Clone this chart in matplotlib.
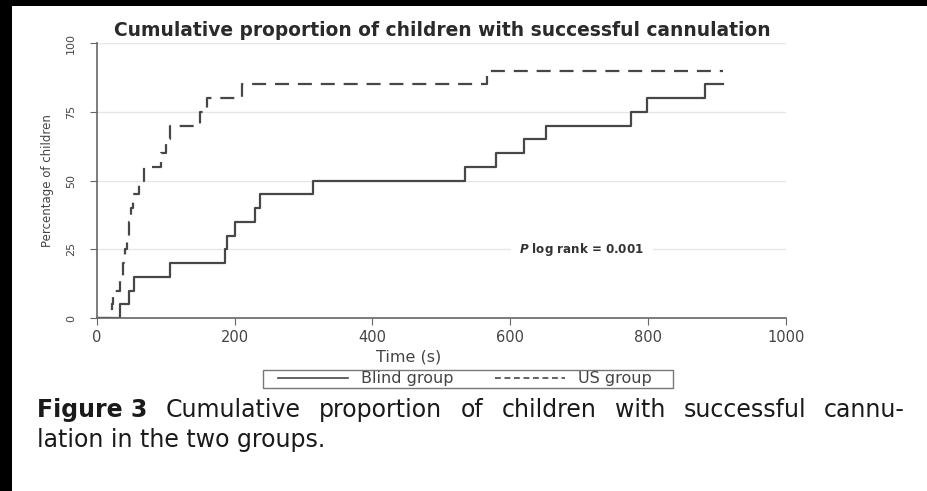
import matplotlib
matplotlib.use("Agg")
import matplotlib.pyplot as plt
from matplotlib.lines import Line2D
from matplotlib.patches import Rectangle

# Datos (tiempo en s, porcentaje acumulado)
blind_times = [0, 34.5, 47, 54.5, 106.5, 186, 189, 201, 230, 237, 314, 535, 580, 620, 652, 775, 799, 883, 909]
blind_pct = [0, 5, 10, 15, 20, 25, 30, 35, 40, 45, 50, 55, 60, 65, 70, 75, 80, 85, 85]

us_times = [0, 22, 24, 34.5, 37.5, 41, 44, 47, 50, 53, 62, 69, 94, 100, 106.5, 150, 160, 211, 566, 909]
us_pct = [0, 5, 10, 15, 20, 25, 30, 35, 40, 45, 50, 55, 60, 65, 70, 75, 80, 85, 90, 90]

x_ticks = [0, 200, 400, 600, 800, 1000]
y_ticks = [0, 25, 50, 75, 100]
labels = ["Blind group", "US group"]

title = "Cumulative proportion of children with successful cannulation"
caption_bold = "Figure 3"
caption_1 = "Cumulative proportion of children with successful cannu-"
caption_2 = "lation in the two groups."

plt.rcParams["font.family"] = ["DejaVu Sans"]
plt.rcParams["mathtext.fontset"] = "custom"
plt.rcParams["mathtext.it"] = "DejaVu Sans:italic:bold"

W, H = 928, 491
fig = plt.figure(figsize=(W / 100, H / 100), dpi=100, facecolor="black")
# zona blanca (marco negro arriba e izquierda)
fig.add_artist(Rectangle((12 / W, 0), 1 - 12 / W, 1 - 6 / H, transform=fig.transFigure,
                         facecolor="white", edgecolor="none", zorder=-10))

ax = fig.add_axes([96.7 / W, 1 - 318 / H, 689 / W, 275 / H])
ax.set_facecolor("white")

line_col = "#474747"
ax.step(blind_times, blind_pct, where="post", color=line_col, lw=1.6)
ax.step(us_times, us_pct, where="post", color=line_col, lw=1.6, ls="--", dashes=(6.3, 4))

ax.set_xlim(0, 1000)
ax.set_ylim(0, 100)
ax.set_xticks(x_ticks)
ax.set_yticks(y_ticks)
ax.yaxis.grid(True, color="#e6e6e6", lw=1)
ax.set_axisbelow(True)

for s in ["top", "right"]:
    ax.spines[s].set_visible(False)
for s in ["left", "bottom"]:
    ax.spines[s].set_color("#666666")
    ax.spines[s].set_linewidth(1.2)

ax.tick_params(axis="x", direction="out", length=5, color="#666666", labelcolor="#444444",
               labelsize=10.5, pad=4)
ax.tick_params(axis="y", direction="out", length=5, color="#666666", labelcolor="#444444",
               labelsize=8, pad=10)
for lbl in ax.get_yticklabels():
    lbl.set_rotation(90)
    lbl.set_va("center")

ax.set_xlabel("Time (s)", fontsize=11.5, color="#444444")
ax.xaxis.set_label_coords(0.453, -0.115)
ax.set_ylabel("Percentage of children", fontsize=8.5, color="#444444")
ax.yaxis.set_label_coords(-0.062, 0.5)

ax.text(704, 25, r"$P$ log rank = 0.001", ha="center", va="center", fontsize=8.6,
        fontweight="bold", color="#333333",
        bbox=dict(facecolor="white", edgecolor="none", pad=6))

fig.text(442 / W, 1 - 31 / H, title, ha="center", va="center", fontsize=13.4,
         fontweight="bold", color="#2a2a2a")

# leyenda con marco dibujado aparte
handles = [Line2D([], [], color=line_col, lw=1.2),
           Line2D([], [], color=line_col, lw=1.2, ls="--", dashes=(3.5, 2.2))]
fig.legend(handles, labels, ncol=2, loc="center", bbox_to_anchor=(465 / W, 1 - 379 / H),
           frameon=False, fontsize=11.5, handlelength=4.4, handletextpad=0.8,
           columnspacing=2.6, borderpad=0, labelcolor="#444444")
fig.add_artist(Rectangle((263 / W, 1 - 388 / H), 410 / W, 18 / H, transform=fig.transFigure,
                         facecolor="none", edgecolor="#777777", lw=1))

# pie de figura, primera linea justificada
cap_size = 17
cap_col = "#1a1a1a"
x0, x1 = 37, 905
y1 = 1 - 410 / H
tb = fig.text(x0 / W, y1, caption_bold, fontsize=cap_size, fontweight="bold",
              va="center", color=cap_col)
words = [fig.text(0, y1, w, fontsize=cap_size, va="center", color=cap_col)
         for w in caption_1.split()]
r = fig.canvas.get_renderer()
widths = [t.get_window_extent(r).width for t in [tb] + words]
gap = (x1 - x0 - sum(widths)) / len(words)
x = x0 + widths[0] + gap
for t, w in zip(words, widths[1:]):
    t.set_x(x / W)
    x += w + gap
fig.text(x0 / W, 1 - 439.5 / H, caption_2, fontsize=cap_size, va="center", color=cap_col)

fig.savefig("out.png", dpi=100, facecolor=fig.get_facecolor())
